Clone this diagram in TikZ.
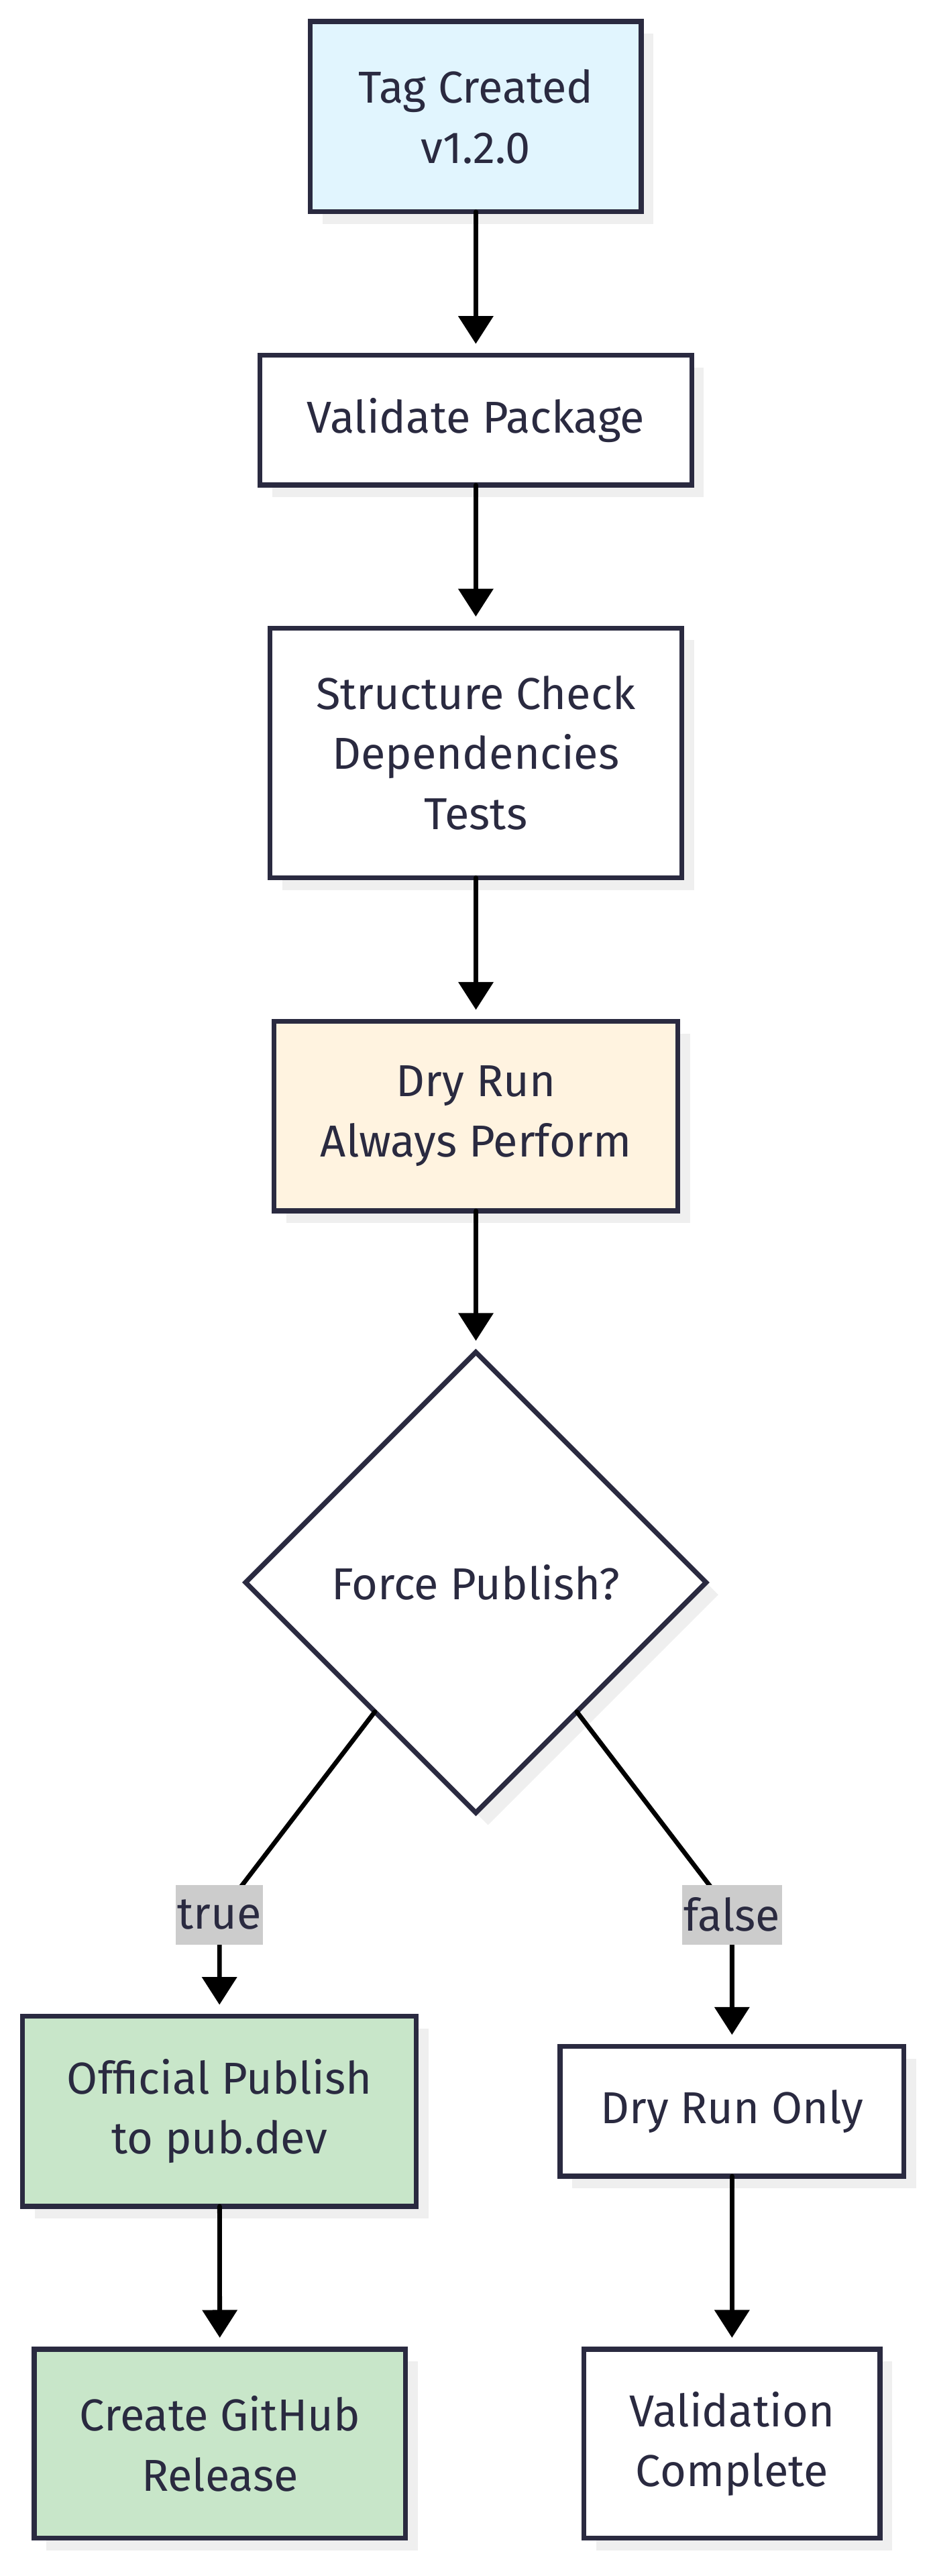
\documentclass[tikz,border=0pt]{standalone}
\usepackage{fontspec}
\setmainfont{Fira Sans}
\usepackage{xcolor}
\usetikzlibrary{arrows.meta,shapes.geometric,shadows}
\definecolor{ink}{HTML}{2A2A40}
\definecolor{tagblue}{HTML}{E1F5FE}
\definecolor{dryorange}{HTML}{FFF3E0}
\definecolor{pubgreen}{HTML}{C8E6C9}
\definecolor{labelgrey}{HTML}{CCCCCC}
\definecolor{shade}{HTML}{EFEFEF}
\begin{document}
\begin{tikzpicture}[line cap=round,line join=round,>={Triangle[length=17pt,width=21pt]},x=1pt,y=-1pt,
box/.style={draw=ink,line width=3pt,line join=miter,fill=white,text=ink,align=center,inner sep=0pt,outer sep=0pt,font=\fontsize{27.4}{36.7}\selectfont,drop shadow={shadow xshift=7.5pt,shadow yshift=-7.5pt,fill=shade,opacity=1}},
flow/.style={->,line width=2.8pt,black,shorten >=7pt},
edgelabel/.style={fill=labelgrey,text=ink,inner xsep=1pt,inner ysep=0pt,minimum height=36.6pt,font=\fontsize{27.4}{36.7}\selectfont}]
\useasboundingbox (0,0) rectangle (571,1577.4);
\node[box,fill=tagblue,minimum width=202.7pt,minimum height=116.6pt] (tag) at (291.4,71.4) {Tag Created\\v1.2.0};
\node[box,minimum width=264.4pt,minimum height=79.5pt] (validate) at (291.4,257.3) {Validate Package};
\node[box,minimum width=252.2pt,minimum height=152.9pt] (checks) at (291.4,461) {Structure Check\\Dependencies\\Tests};
\node[box,fill=dryorange,minimum width=247.3pt,minimum height=116.1pt] (dryrun) at (291.5,683.4) {Dry Run\\Always Perform};
\node[box,diamond,aspect=1,minimum width=282pt,minimum height=282pt] (force) at (291.4,969) {Force Publish?};
\node[box,fill=pubgreen,minimum width=241.2pt,minimum height=116.4pt] (publish) at (134.4,1292.8) {Official Publish\\to pub.dev};
\node[box,minimum width=210.6pt,minimum height=79.6pt] (dryonly) at (448.3,1292.8) {Dry Run Only};
\node[box,fill=pubgreen,minimum width=227.4pt,minimum height=115.8pt] (release) at (134.7,1496.4) {Create GitHub\\Release};
\node[box,minimum width=181.3pt,minimum height=115.8pt] (complete) at (448.3,1496.4) {Validation\\Complete};
\draw[flow] (tag) -- (validate);
\draw[flow] (validate) -- (checks);
\draw[flow] (checks) -- (dryrun);
\draw[flow] (dryrun) -- (force);
\coordinate (yesmid) at (134.4,1172.5);
\coordinate (nomid) at (448.3,1172.5);
\draw[flow] (force.232) -- (yesmid) -- (publish);
\draw[flow] (force.308) -- (nomid) -- (dryonly);
\node[edgelabel] (yes) at (yesmid) {true};
\node[edgelabel] (no) at (nomid) {false};
\draw[flow] (publish) -- (release);
\draw[flow] (dryonly) -- (complete);
\end{tikzpicture}
\end{document}
